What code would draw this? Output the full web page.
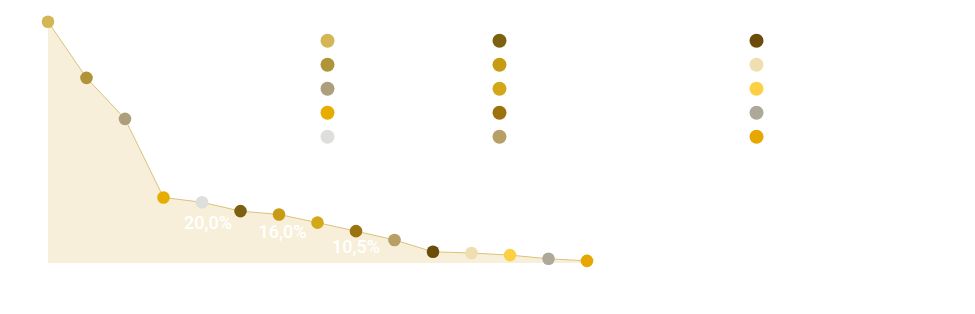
<!DOCTYPE html>
<html>
<head>
<meta charset="utf-8">
<script src="https://cdn.jsdelivr.net/npm/d3@7"></script>
<style>
  html, body { margin: 0; padding: 0; background: #fff; }
  svg { display: block; font-family: Roboto, "Noto Sans", sans-serif; }
</style>
</head>
<body>
<div id="container"></div>
<script>
/**
 * CONSTANTS AND GLOBALS
 * */
const width = 975,
  height = 314,
  margin = { top: 20, bottom: 51, left: 48, right: 388 };

// one value (percent) per step, in order
const values = [79.5, 61.0, 47.5, 21.6, 20.0, 17.1, 16.0, 13.3, 10.5, 7.6, 3.7, 3.3, 2.6, 1.4, 0.7];
const colors = [
  "#d4b654", "#b09438", "#ae9f7c", "#e6ad00", "#dededc",
  "#7c6210", "#c79b14", "#d4a718", "#9c720e", "#b89f65",
  "#6b4c08", "#efdfb0", "#fdd044", "#aea898", "#e6a800",
];
// which points get a value label
const labelIndex = [4, 6, 8];
const labelText = ["20,0%", "16,0%", "10,5%"];
const labelShift = [6, 3.5, 0];
const labelDrop = [27, 24, 22];

// legend columns (no readable text, only the swatches)
const legendCols = [327.5, 499.5, 756.5];
const legendRows = 5;

const svg = d3
  .select("#container")
  .append("svg")
  .attr("width", width)
  .attr("height", height);

const x = d3
  .scaleLinear()
  .domain([0, values.length - 1])
  .range([margin.left, width - margin.right]);

const y = d3
  .scaleLinear()
  .domain([0, 80])
  .range([height - margin.bottom, height - margin.bottom - 80 * 3.035]);

const area = d3
  .area()
  .x((d, i) => x(i))
  .y0(y(0))
  .y1((d) => y(d));

const line = d3
  .line()
  .x((d, i) => x(i))
  .y((d) => y(d));

svg.append("path").datum(values).attr("d", area).attr("fill", "#f7efd9");

svg
  .append("path")
  .datum(values)
  .attr("d", line)
  .attr("fill", "none")
  .attr("stroke", "#dcc278")
  .attr("stroke-width", 1);

svg
  .selectAll("circle.pt")
  .data(values)
  .join("circle")
  .attr("class", "pt")
  .attr("cx", (d, i) => x(i))
  .attr("cy", (d) => y(d))
  .attr("r", 6.3)
  .attr("fill", (d, i) => colors[i]);

svg
  .selectAll("text.lbl")
  .data(labelIndex)
  .join("text")
  .attr("class", "lbl")
  .attr("x", (d, i) => x(d) + labelShift[i])
  .attr("y", (d, i) => y(values[d]) + labelDrop[i])
  .attr("text-anchor", "middle")
  .attr("fill", "#ffffff")
  .attr("font-size", 18)
  .attr("font-weight", 500)
  .text((d, i) => labelText[i]);

// legend swatches, filled column by column
svg
  .selectAll("circle.leg")
  .data(colors)
  .join("circle")
  .attr("class", "leg")
  .attr("cx", (d, i) => legendCols[Math.floor(i / legendRows)])
  .attr("cy", (d, i) => 40.7 + (i % legendRows) * 24)
  .attr("r", 7)
  .attr("fill", (d) => d);
</script>
</body>
</html>
